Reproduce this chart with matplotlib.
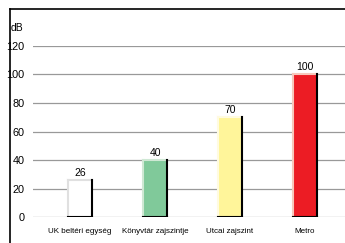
import matplotlib.pyplot as plt
from matplotlib.lines import Line2D

plt.rcParams['font.family'] = ['Liberation Sans', 'DejaVu Sans']

# data
categories = ['UK beltéri egység', 'Könyvtár zajszintje', 'Utcai zajszint', 'Metro']
values = [26, 40, 70, 100]
colors = ['#ffffff', '#80c99a', '#fff59a', '#ec1c24']
light_edges = ['#e0e0e0', '#cfe8d4', '#fffbe0', '#f7c8bc']
yticks = [0, 20, 40, 60, 80, 100, 120]

fig = plt.figure(figsize=(3.45, 2.43), dpi=100)
ax = fig.add_axes([33 / 345, 1 - 217 / 243, 312 / 345, 171 / 243])

x = list(range(len(values)))
w = 0.32

for y in yticks:
    ax.axhline(y, color='#999999', lw=0.9, zorder=1)

ax.bar(x, values, width=w, color=colors, edgecolor='none', zorder=2)

for xi, v, le in zip(x, values, light_edges):
    ax.plot([xi - w / 2, xi - w / 2], [0, v], color=le, lw=1.5, zorder=3)
    ax.plot([xi - w / 2, xi + w / 2], [v, v], color=le, lw=1.5, zorder=3)
    ax.plot([xi + w / 2, xi + w / 2], [0, v], color='black', lw=1.5, zorder=4)
    ax.plot([xi - w / 2, xi + w / 2], [0, 0], color='black', lw=1.5, zorder=4)
    ax.text(xi, v + 1.5, str(v), ha='center', va='bottom', fontsize=7.5)

ax.set_xlim(-0.627, 3.533)
ax.set_ylim(0, 120)
ax.set_yticks(yticks)
ax.set_xticks(x)
ax.set_xticklabels(categories, fontsize=5.8)
ax.tick_params(axis='y', length=0, pad=6, labelsize=7.8)
ax.tick_params(axis='x', length=0, pad=8)
for s in ax.spines.values():
    s.set_visible(False)

fig.text(11 / 345, 1 - 28 / 243, 'dB', fontsize=7.5, va='center')

# outer frame
fig.add_artist(Line2D([10 / 345, 10 / 345], [0, 1 - 9 / 243], color='black', lw=1.2))
fig.add_artist(Line2D([10 / 345, 1], [1 - 9 / 243, 1 - 9 / 243], color='black', lw=1.2))

fig.savefig('out.png', dpi=100)
